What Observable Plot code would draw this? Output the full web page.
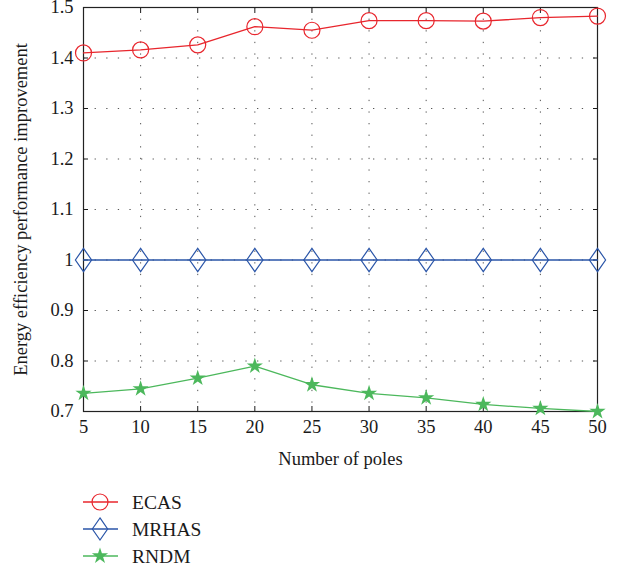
<!DOCTYPE html>
<html>
<head>
<meta charset="utf-8">
<script src="https://cdn.jsdelivr.net/npm/d3@7"></script>
<script src="https://cdn.jsdelivr.net/npm/@observablehq/plot@0.6"></script>
<style>
  body { margin: 0; background: #fff; }
  #chart svg { display: block; }
  #legend { display: block; }
</style>
</head>
<body>
<div id="chart"></div>
<svg id="legend" width="623" height="95"></svg>
<script>
// Number of poles on the x axis
const poles = [5, 10, 15, 20, 25, 30, 35, 40, 45, 50];
// Energy efficiency performance improvement per scheme
const ecas  = [1.410, 1.416, 1.426, 1.462, 1.455, 1.474, 1.474, 1.473, 1.480, 1.483];
const mrhas = [1, 1, 1, 1, 1, 1, 1, 1, 1, 1];
const rndm  = [0.736, 0.745, 0.766, 0.790, 0.753, 0.736, 0.727, 0.714, 0.706, 0.700];
const yTicks = [0.7, 0.8, 0.9, 1, 1.1, 1.2, 1.3, 1.4, 1.5];
const seriesNames = ["ECAS", "MRHAS", "RNDM"];
const colors = ["#e8262d", "#2a55a8", "#4cb85c"];

// Tall diamond outline used for MRHAS
const tallDiamond = {
  draw(ctx, size) {
    const r = Math.sqrt(size / Math.PI);
    const w = r * 0.9, h = r * 1.3;
    ctx.moveTo(0, -h); ctx.lineTo(w, 0); ctx.lineTo(0, h); ctx.lineTo(-w, 0); ctx.closePath();
  }
};

const rows = (vals, name) => poles.map((p, i) => ({poles: p, value: vals[i], series: name}));
const dEcas = rows(ecas, "ECAS"), dMrhas = rows(mrhas, "MRHAS"), dRndm = rows(rndm, "RNDM");

const font = "'Liberation Serif', 'DejaVu Serif', serif";

const chart = Plot.plot({
  width: 623,
  height: 476,
  marginTop: 7,
  marginLeft: 83,
  marginRight: 26,
  marginBottom: 65,
  style: `font-family: ${font}; font-size: 19px; color: #1a1a1a; background: #fff;`,
  x: {domain: [5, 50]},
  y: {domain: [0.7, 1.5]},
  marks: [
    Plot.gridX(poles, {stroke: "#444", strokeOpacity: 0.9, strokeDasharray: "1.3,10.3"}),
    Plot.gridY(yTicks, {stroke: "#444", strokeOpacity: 0.9, strokeDasharray: "1.3,10.3"}),
    Plot.axisX(poles, {anchor: "bottom", tickSize: -5, tickPadding: 13, tickFormat: d => d, fontSize: 18.5,
      label: "Number of poles", labelAnchor: "center", labelOffset: 53, labelArrow: false}),
    Plot.axisX(poles, {anchor: "top", tickSize: -5, tickFormat: () => "", label: null}),
    Plot.axisY(yTicks, {anchor: "left", tickSize: -5, tickPadding: 15, tickFormat: d => String(d), fontSize: 18.5,
      label: "Energy efficiency performance improvement", labelAnchor: "center", labelOffset: 70, labelArrow: false}),
    Plot.axisY(yTicks, {anchor: "right", tickSize: -5, tickFormat: () => "", label: null}),
    Plot.frame({stroke: "#222", strokeWidth: 1.2}),
    Plot.line(dMrhas, {x: "poles", y: "value", stroke: colors[1], strokeWidth: 1.3}),
    Plot.dot(dMrhas, {x: "poles", y: "value", symbol: tallDiamond, r: 9, stroke: colors[1], strokeWidth: 1.2, fill: "none"}),
    Plot.line(dEcas, {x: "poles", y: "value", stroke: colors[0], strokeWidth: 1.3}),
    Plot.dot(dEcas, {x: "poles", y: "value", symbol: "circle", r: 8, stroke: colors[0], strokeWidth: 1.2, fill: "none"}),
    Plot.line(dRndm, {x: "poles", y: "value", stroke: colors[2], strokeWidth: 1.3}),
    Plot.dot(dRndm, {x: "poles", y: "value", symbol: "star", r: 5.1, fill: colors[2], stroke: "none"})
  ]
});
document.getElementById("chart").appendChild(chart);

// Legend beneath the chart
const legend = d3.select("#legend");
const symbols = [d3.symbolCircle, tallDiamond, d3.symbolStar];
const radii = [8, 8.5, 5.1];
seriesNames.forEach((name, i) => {
  const y = 26 + i * 27;
  const g = legend.append("g").attr("transform", `translate(0,${y})`);
  g.append("line").attr("x1", 83).attr("x2", 118).attr("y1", 0).attr("y2", 0)
    .attr("stroke", colors[i]).attr("stroke-width", 1.3);
  const sym = g.append("path").attr("transform", "translate(100,0)")
    .attr("d", d3.symbol(symbols[i], Math.PI * radii[i] * radii[i])());
  if (i === 2) sym.attr("fill", colors[i]);
  else sym.attr("fill", "none").attr("stroke", colors[i]).attr("stroke-width", 1.2);
  g.append("text").attr("x", 132).attr("y", 0).attr("dy", "0.35em")
    .attr("font-family", font).attr("font-size", 19.5).attr("fill", "#1a1a1a").text(name);
});
</script>
</body>
</html>
